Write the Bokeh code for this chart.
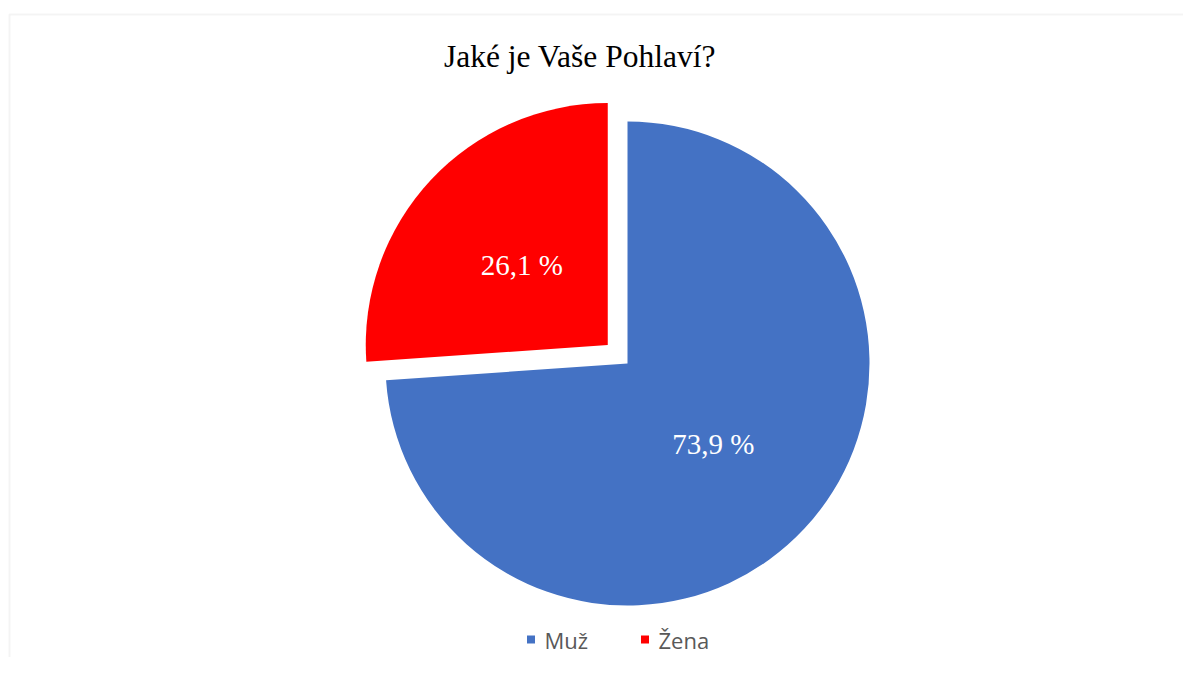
import numpy as np
from bokeh.plotting import figure
from bokeh.models import Range1d, BoxAnnotation, ColumnDataSource
from bokeh.core.properties import value
from bokeh.embed import file_html
from bokeh.resources import INLINE

# ---- data ----
categories = ["Muž", "Žena"]
values = [73.9, 26.1]
labels = ["73,9 %", "26,1 %"]
colors = ["#4472C4", "#FF0000"]
explode = [0, 27]
title_text = "Jaké je Vaše Pohlaví?"

W, H = 1183, 657
p = figure(width=W, height=H, output_backend="svg", toolbar_location=None,
           x_range=Range1d(0, W), y_range=Range1d(673 - H, 673),
           min_border=0, outline_line_color=None)
p.axis.visible = False
p.grid.visible = False
p.background_fill_color = "white"
p.border_fill_color = "white"

# chart border (extends beyond the window on right/bottom)
p.add_layout(BoxAnnotation(left=9, right=3000, top=673 - 14, bottom=-3000,
                           fill_alpha=0, line_color="#d9d9d9", line_width=2))

cx0, cy0, r = 627, 673 - 363, 242
vals = np.array(values, dtype=float)
frac = vals / vals.sum()
cum = np.cumsum(frac)
start_cw = np.pi / 2 - (cum - frac) * 2 * np.pi
end_cw = np.pi / 2 - cum * 2 * np.pi
mid = (start_cw + end_cw) / 2
ex = np.array(explode, dtype=float)
cx = cx0 + ex * np.cos(mid)
cy = cy0 + ex * np.sin(mid)
lx = cx + 0.485 * r * np.cos(mid)
ly = cy + 0.485 * r * np.sin(mid)

src = ColumnDataSource(dict(cat=categories, x=cx, y=cy, sa=end_cw, ea=start_cw,
                            color=colors, lx=lx, ly=ly, lab=labels))
p.wedge(x="x", y="y", radius=r, radius_units="data", start_angle="sa", end_angle="ea",
        direction="anticlock", fill_color="color", line_color=None, source=src)
p.text(x="lx", y="ly", text="lab", source=src, text_color="white",
       text_font=value("Liberation Serif"), text_font_size="29px",
       text_align="center", text_baseline="middle")

p.text(x=[579.5], y=[673 - 56], text=[title_text], text_color="black",
       text_font=value("Liberation Serif"), text_font_size="31.5px",
       text_align="center", text_baseline="middle")

# legend (drawn manually, Excel-style, centred below the pie)
leg_x0 = 530.5   # first marker centre
leg_step = 114   # distance between items
leg_y = 673 - 639
lsrc = ColumnDataSource(dict(
    mx=[leg_x0 + i * leg_step for i in range(len(categories))],
    tx=[leg_x0 + 13.5 + i * leg_step for i in range(len(categories))],
    y=[leg_y] * len(categories), color=colors, cat=categories))
p.rect(x="mx", y="y", width=8, height=8, fill_color="color", line_color=None, source=lsrc)
p.text(x="tx", y="y", text="cat", source=lsrc, text_color="#595959",
       text_font=value("Open Sans"), text_font_size="22px",
       text_align="left", text_baseline="middle")

open("out.html", "w").write(file_html(p, INLINE))
